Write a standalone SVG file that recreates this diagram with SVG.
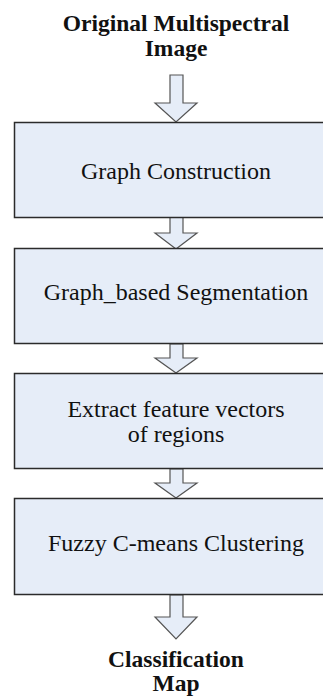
<svg xmlns="http://www.w3.org/2000/svg" width="323" height="697" viewBox="0 0 323 697">
<style>
.box{fill:#e6edf8;stroke:#2b2b2b;stroke-width:1.5}
.arr{fill:#e6edf8;stroke:#555;stroke-width:1.2;stroke-linejoin:miter}
text{fill:#111;text-anchor:middle;font-family:"Liberation Serif","Times New Roman",serif}
.t{font-size:24px}
.b{font-size:23.5px;font-weight:bold}
</style>
<rect width="323" height="697" fill="#fff"/>
<g id="title"><text class="b" x="176" y="31">Original Multispectral</text><text class="b" x="176" y="56">Image</text></g>
<g id="connectors">
<path class="arr" d="M170,75 H183 V103 H197 L176,122 L155,103 H170 Z"/>
<path class="arr" d="M170,217 H183 V233 H197 L176,249 L155,233 H170 Z"/>
<path class="arr" d="M170,344 H183 V358 H197 L176,373 L155,358 H170 Z"/>
<path class="arr" d="M170,469 H183 V483 H197 L176,498 L155,483 H170 Z"/>
<path class="arr" d="M170,595 H183 V617 H197 L176,639 L155,617 H170 Z"/>
</g>
<g id="n1"><rect class="box" x="14.5" y="122.5" width="320" height="95"/><text class="t" x="176" y="179">Graph Construction</text></g>
<g id="n2"><rect class="box" x="14.5" y="248.5" width="320" height="95"/><text class="t" x="176" y="300">Graph_based Segmentation</text></g>
<g id="n3"><rect class="box" x="14.5" y="373.5" width="320" height="95"/><text class="t" x="176" y="417">Extract feature vectors</text><text class="t" x="176" y="442">of regions</text></g>
<g id="n4"><rect class="box" x="14.5" y="498.5" width="320" height="96"/><text class="t" x="176" y="551">Fuzzy C-means Clustering</text></g>
<g id="out"><text class="b" x="176" y="667">Classification</text><text class="b" x="176" y="691">Map</text></g>
</svg>
